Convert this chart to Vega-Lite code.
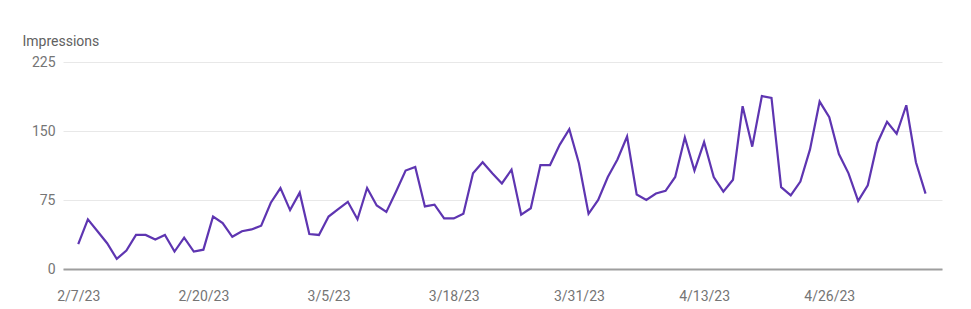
{
  "$schema": "https://vega.github.io/schema/vega-lite/v6.json",
  "width": 879,
  "height": 207,
  "autosize": "none",
  "padding": {"left": 63, "top": 62, "right": 29, "bottom": 40},
  "background": "white",
  "config": {"view": {"stroke": null}, "font": "Roboto"},
  "data": {"values": [
    {"date": "2023-02-07", "impressions": 27},
    {"date": "2023-02-08", "impressions": 54},
    {"date": "2023-02-09", "impressions": 41},
    {"date": "2023-02-10", "impressions": 28},
    {"date": "2023-02-11", "impressions": 11},
    {"date": "2023-02-12", "impressions": 20},
    {"date": "2023-02-13", "impressions": 37},
    {"date": "2023-02-14", "impressions": 37},
    {"date": "2023-02-15", "impressions": 32},
    {"date": "2023-02-16", "impressions": 37},
    {"date": "2023-02-17", "impressions": 19},
    {"date": "2023-02-18", "impressions": 34},
    {"date": "2023-02-19", "impressions": 19},
    {"date": "2023-02-20", "impressions": 21},
    {"date": "2023-02-21", "impressions": 57},
    {"date": "2023-02-22", "impressions": 50},
    {"date": "2023-02-23", "impressions": 35},
    {"date": "2023-02-24", "impressions": 41},
    {"date": "2023-02-25", "impressions": 43},
    {"date": "2023-02-26", "impressions": 47},
    {"date": "2023-02-27", "impressions": 72},
    {"date": "2023-02-28", "impressions": 88},
    {"date": "2023-03-01", "impressions": 64},
    {"date": "2023-03-02", "impressions": 83},
    {"date": "2023-03-03", "impressions": 38},
    {"date": "2023-03-04", "impressions": 37},
    {"date": "2023-03-05", "impressions": 57},
    {"date": "2023-03-06", "impressions": 65},
    {"date": "2023-03-07", "impressions": 73},
    {"date": "2023-03-08", "impressions": 54},
    {"date": "2023-03-09", "impressions": 88},
    {"date": "2023-03-10", "impressions": 69},
    {"date": "2023-03-11", "impressions": 62},
    {"date": "2023-03-12", "impressions": 84},
    {"date": "2023-03-13", "impressions": 107},
    {"date": "2023-03-14", "impressions": 111},
    {"date": "2023-03-15", "impressions": 68},
    {"date": "2023-03-16", "impressions": 70},
    {"date": "2023-03-17", "impressions": 55},
    {"date": "2023-03-18", "impressions": 55},
    {"date": "2023-03-19", "impressions": 60},
    {"date": "2023-03-20", "impressions": 104},
    {"date": "2023-03-21", "impressions": 116},
    {"date": "2023-03-22", "impressions": 104},
    {"date": "2023-03-23", "impressions": 93},
    {"date": "2023-03-24", "impressions": 108},
    {"date": "2023-03-25", "impressions": 59},
    {"date": "2023-03-26", "impressions": 66},
    {"date": "2023-03-27", "impressions": 113},
    {"date": "2023-03-28", "impressions": 113},
    {"date": "2023-03-29", "impressions": 135},
    {"date": "2023-03-30", "impressions": 152},
    {"date": "2023-03-31", "impressions": 115},
    {"date": "2023-04-01", "impressions": 60},
    {"date": "2023-04-02", "impressions": 75},
    {"date": "2023-04-03", "impressions": 100},
    {"date": "2023-04-04", "impressions": 119},
    {"date": "2023-04-05", "impressions": 144},
    {"date": "2023-04-06", "impressions": 81},
    {"date": "2023-04-07", "impressions": 75},
    {"date": "2023-04-08", "impressions": 82},
    {"date": "2023-04-09", "impressions": 85},
    {"date": "2023-04-10", "impressions": 100},
    {"date": "2023-04-11", "impressions": 143},
    {"date": "2023-04-12", "impressions": 107},
    {"date": "2023-04-13", "impressions": 138},
    {"date": "2023-04-14", "impressions": 100},
    {"date": "2023-04-15", "impressions": 84},
    {"date": "2023-04-16", "impressions": 97},
    {"date": "2023-04-17", "impressions": 177},
    {"date": "2023-04-18", "impressions": 133},
    {"date": "2023-04-19", "impressions": 188},
    {"date": "2023-04-20", "impressions": 186},
    {"date": "2023-04-21", "impressions": 89},
    {"date": "2023-04-22", "impressions": 80},
    {"date": "2023-04-23", "impressions": 95},
    {"date": "2023-04-24", "impressions": 130},
    {"date": "2023-04-25", "impressions": 182},
    {"date": "2023-04-26", "impressions": 165},
    {"date": "2023-04-27", "impressions": 125},
    {"date": "2023-04-28", "impressions": 104},
    {"date": "2023-04-29", "impressions": 74},
    {"date": "2023-04-30", "impressions": 91},
    {"date": "2023-05-01", "impressions": 137},
    {"date": "2023-05-02", "impressions": 160},
    {"date": "2023-05-03", "impressions": 147},
    {"date": "2023-05-04", "impressions": 178},
    {"date": "2023-05-05", "impressions": 116},
    {"date": "2023-05-06", "impressions": 82}
  ]},
  "mark": {"type": "line", "color": "#5e35b1", "strokeWidth": 2.2, "strokeJoin": "miter", "strokeMiterLimit": 4},
  "encoding": {
    "x": {
      "field": "date",
      "type": "temporal",
      "scale": {
        "type": "utc",
        "domain": [
          {"year": 2023, "month": 2, "date": 5, "hours": 10, "utc": true},
          {"year": 2023, "month": 5, "date": 7, "hours": 17, "utc": true}
        ]
      },
      "axis": {
        "title": null,
        "values": [
          {"year": 2023, "month": 2, "date": 7, "utc": true},
          {"year": 2023, "month": 2, "date": 20, "utc": true},
          {"year": 2023, "month": 3, "date": 5, "utc": true},
          {"year": 2023, "month": 3, "date": 18, "utc": true},
          {"year": 2023, "month": 3, "date": 31, "utc": true},
          {"year": 2023, "month": 4, "date": 13, "utc": true},
          {"year": 2023, "month": 4, "date": 26, "utc": true}
        ],
        "format": "%-m/%-d/%y",
        "grid": false,
        "ticks": false,
        "domain": true,
        "domainColor": "#9e9e9e",
        "domainWidth": 2,
        "labelFont": "Roboto",
        "labelFontSize": 14,
        "labelColor": "#757575",
        "labelPadding": 20,
        "labelOverlap": false,
        "labelFlush": false
      }
    },
    "y": {
      "field": "impressions",
      "type": "quantitative",
      "scale": {"domain": [0, 225], "nice": false, "zero": true},
      "axis": {
        "title": "Impressions",
        "titleAngle": 0,
        "titleAlign": "left",
        "titleBaseline": "middle",
        "titleX": -41,
        "titleY": -21,
        "titleFont": "Roboto",
        "titleFontSize": 14,
        "titleFontWeight": "normal",
        "titleColor": "#616161",
        "values": [0, 75, 150, 225],
        "domain": false,
        "ticks": false,
        "grid": true,
        "gridColor": "#e8e8e8",
        "gridWidth": 1,
        "labelFont": "Roboto",
        "labelFontSize": 14,
        "labelColor": "#757575",
        "labelPadding": 8
      }
    }
  }
}
